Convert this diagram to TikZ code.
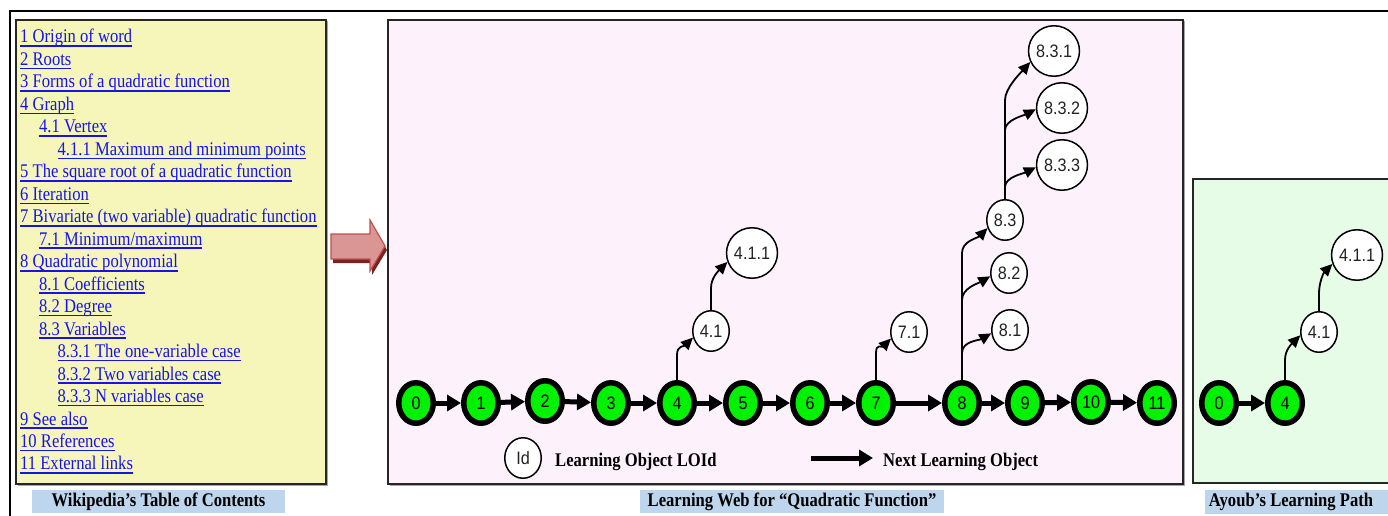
\documentclass[tikz,border=0pt]{standalone}
\usepackage{fontspec}
\setmainfont{Liberation Serif}
\newfontfamily\tocfamily[FakeStretch=0.86]{Liberation Serif}
\newfontfamily\lofamily[FakeStretch=0.9]{Liberation Sans}
\usetikzlibrary{arrows.meta,shapes.geometric}

\definecolor{tocbg}{RGB}{246,246,187}
\definecolor{webbg}{RGB}{253,242,251}
\definecolor{pathbg}{RGB}{230,252,230}
\definecolor{capbg}{RGB}{189,214,238}
\definecolor{linkblue}{RGB}{20,20,235}
\definecolor{loGreen}{RGB}{0,242,0}
\definecolor{arrowfill}{RGB}{217,150,148}
\definecolor{arrowedge}{RGB}{192,80,77}
\definecolor{arrowdark}{RGB}{120,35,33}
\definecolor{nodetext}{RGB}{35,35,35}

\newcommand\tocsize{\fontsize{19.3}{22}\selectfont}
\newcommand\losize{\fontsize{18}{18}\selectfont}
% underlined hyperlink-looking entry
\newsavebox\tocbox
\newcommand\tocul[1]{\sbox\tocbox{#1}\rlap{\rule[-3.8pt]{\wd\tocbox}{1.6pt}}\usebox\tocbox}

\tikzset{
  toc/.style={anchor=base west, inner sep=0pt, text=linkblue, font=\tocfamily\tocsize},
  panel/.style={draw=black!85, line width=1.5pt},
  shade/.style={fill=black!35},
  caption/.style={fill=capbg, inner sep=0pt, minimum height=23pt,
    text height=12.5pt, text depth=3.5pt, font=\tocfamily\bfseries\tocsize},
  lo/.style={ellipse, draw=black, line width=5.5pt, fill=loGreen,
    minimum width=34.5pt, minimum height=40.5pt, inner sep=0pt, font=\lofamily\losize},
  sub/.style={ellipse, draw=black, line width=1.5pt, fill=white,
    minimum width=36.5pt, minimum height=40.5pt, inner sep=0pt,
    text=nodetext, font=\lofamily\losize},
  subwide/.style={sub, minimum width=50.5pt, minimum height=50.5pt},
  next/.style={line width=5pt, -{Triangle[length=14pt,width=16pt]}},
  link/.style={line width=1.8pt, -{Triangle[length=12pt,width=11pt]}},
  legend/.style={anchor=base west, inner sep=0pt, font=\tocfamily\bfseries\tocsize},
}

\begin{document}
\begin{tikzpicture}[x=1pt,y=1pt]
\useasboundingbox (0,0) rectangle (1388,-516);
\fill[white] (0,0) rectangle (1388,-516);

% outer frame
\draw[line width=2.5pt, line join=miter] (10,-516) -- (10,-11) -- (1388,-11);

% ---------- table of contents ----------
\fill[shade] (17.5,-21.5) rectangle (327.5,-485.5);
\draw[panel, fill=tocbg] (16,-20) rectangle (326,-484);

\node[toc] (toc1)  at (20,-43.0)   {\tocul{1 Origin of word}};
\node[toc] (toc2)  at (20,-65.5)   {\tocul{2 Roots}};
\node[toc] (toc3)  at (20,-87.9)   {\tocul{3 Forms of a quadratic function}};
\node[toc] (toc4)  at (20,-110.4)  {\tocul{4 Graph}};
\node[toc] (toc5)  at (39,-132.9)  {\tocul{4.1 Vertex}};
\node[toc] (toc6)  at (57.5,-155.4){\tocul{4.1.1 Maximum and minimum points}};
\node[toc] (toc7)  at (20,-177.8)  {\tocul{5 The square root of a quadratic function}};
\node[toc] (toc8)  at (20,-200.3)  {\tocul{6 Iteration}};
\node[toc] (toc9)  at (20,-222.8)  {\tocul{7 Bivariate (two variable) quadratic function}};
\node[toc] (toc10) at (39,-245.2)  {\tocul{7.1 Minimum/maximum}};
\node[toc] (toc11) at (20,-267.7)  {\tocul{8 Quadratic polynomial}};
\node[toc] (toc12) at (39,-290.2)  {\tocul{8.1 Coefficients}};
\node[toc] (toc13) at (39,-312.6)  {\tocul{8.2 Degree}};
\node[toc] (toc14) at (39,-335.1)  {\tocul{8.3 Variables}};
\node[toc] (toc15) at (57.5,-357.6){\tocul{8.3.1 The one-variable case}};
\node[toc] (toc16) at (57.5,-380.1){\tocul{8.3.2 Two variables case}};
\node[toc] (toc17) at (57.5,-402.5){\tocul{8.3.3 N variables case}};
\node[toc] (toc18) at (20,-425.0)  {\tocul{9 See also}};
\node[toc] (toc19) at (20,-447.5)  {\tocul{10 References}};
\node[toc] (toc20) at (20,-469.9)  {\tocul{11 External links}};

\node[caption, minimum width=253pt] (capToc) at (158.5,-501.5) {Wikipedia’s Table of Contents};

% ---------- block arrow ----------
\fill[arrowdark] (333,-238) -- (372,-238) -- (372,-224) -- (387,-250) -- (372,-275)
  -- (372,-263) -- (333,-263) -- cycle;
\filldraw[fill=arrowfill, draw=arrowedge, line width=1.2pt]
  (331,-234) -- (370,-234) -- (370,-220) -- (385,-246) -- (370,-271)
  -- (370,-259) -- (331,-259) -- cycle;

% ---------- learning web ----------
\fill[shade] (389.5,-21.5) rectangle (1184.5,-485.5);
\draw[panel, fill=webbg] (388,-20) rectangle (1183,-484);

\node[lo] (n0)  at (416,-403)  {0};
\node[lo] (n1)  at (481,-403)  {1};
\node[lo] (n2)  at (545,-401)  {2};
\node[lo] (n3)  at (611,-403)  {3};
\node[lo] (n4)  at (677,-403)  {4};
\node[lo] (n5)  at (743,-403)  {5};
\node[lo] (n6)  at (810,-403)  {6};
\node[lo] (n7)  at (876,-403)  {7};
\node[lo] (n8)  at (962,-403)  {8};
\node[lo] (n9)  at (1025,-403) {9};
\node[lo] (n10) at (1091,-402) {10};
\node[lo] (n11) at (1157,-403) {11};

\foreach \a/\b in {n0/n1,n1/n2,n2/n3,n3/n4,n4/n5,n5/n6,n6/n7,n7/n8,n8/n9,n9/n10,n10/n11}
  \draw[next] (\a) -- (\b);

\node[sub]     (w41)  at (711,-331)  {4.1};
\node[subwide] (w411) at (752,-253)  {4.1.1};
\node[sub]     (w71)  at (909,-332)  {7.1};
\node[sub]     (w81)  at (1010,-330) {8.1};
\node[sub]     (w82)  at (1009,-273) {8.2};
\node[sub]     (w83)  at (1005,-220) {8.3};
\node[subwide] (w833) at (1062,-165) {8.3.3};
\node[subwide] (w832) at (1062,-108) {8.3.2};
\node[subwide] (w831) at (1054,-51)  {8.3.1};

\draw[link] (n4.north)  -- ++(0,25)  .. controls +(0,10) and +(-9,-9)  .. (w41.200);
\draw[link] (w41.north) -- ++(0,22)  .. controls +(0,10) and +(-9,-9)  .. (w411.200);
\draw[link] (n7.north)  -- ++(0,27)  .. controls +(0,10) and +(-9,-9)  .. (w71.200);
\draw[link] (n8.north)  -- ++(0,27)  .. controls +(0,12) and +(-12,-7) .. (w81.190);
\draw[link] (n8.north)  -- ++(0,80)  .. controls +(0,12) and +(-12,-7) .. (w82.190);
\draw[link] (n8.north)  -- ++(0,127) .. controls +(0,12) and +(-10,-10) .. (w83.205);
\draw[link] (w83.north) -- ++(0,12)  .. controls +(0,10) and +(-12,-6) .. (w833.185);
\draw[link] (w83.north) -- ++(0,69)  .. controls +(0,10) and +(-12,-6) .. (w832.183);
\draw[link] (w83.north) -- ++(0,99)  .. controls +(0,12) and +(-9,-10) .. (w831.205);

% legend
\node[sub] (legId) at (523,-458) {Id};
\node[legend] (legLO) at (555,-466) {Learning Object LOId};
\coordinate (legA) at (811,-458);
\coordinate (legB) at (873,-458);
\draw[next] (legA) -- (legB);
\node[legend] (legNext) at (883,-466.5) {Next Learning Object};

\node[caption, minimum width=304pt] (capWeb) at (792,-501.5) {Learning Web for “Quadratic Function”};

% ---------- learning path ----------
\fill[pathbg] (1193,-179) rectangle (1388,-483);
\draw[panel] (1388,-179) -- (1193,-179) -- (1193,-483) -- (1388,-483);

\node[lo]      (g0)   at (1219,-403) {0};
\node[lo]      (g4)   at (1285,-403) {4};
\node[sub]     (g41)  at (1319,-332) {4.1};
\node[subwide] (g411) at (1357,-255) {4.1.1};

\draw[next] (g0) -- (g4);
\draw[link] (g4.north)  -- ++(0,20) .. controls +(0,10) and +(-9,-9) .. (g41.190);
\draw[link] (g41.north) -- ++(0,18) .. controls +(0,10) and +(-9,-9) .. (g411.200);

\fill[capbg] (1205,-490) rectangle (1388,-514);
\node[caption, fill=none] (capPath) at (1291,-502) {Ayoub’s Learning Path};
\end{tikzpicture}
\end{document}
